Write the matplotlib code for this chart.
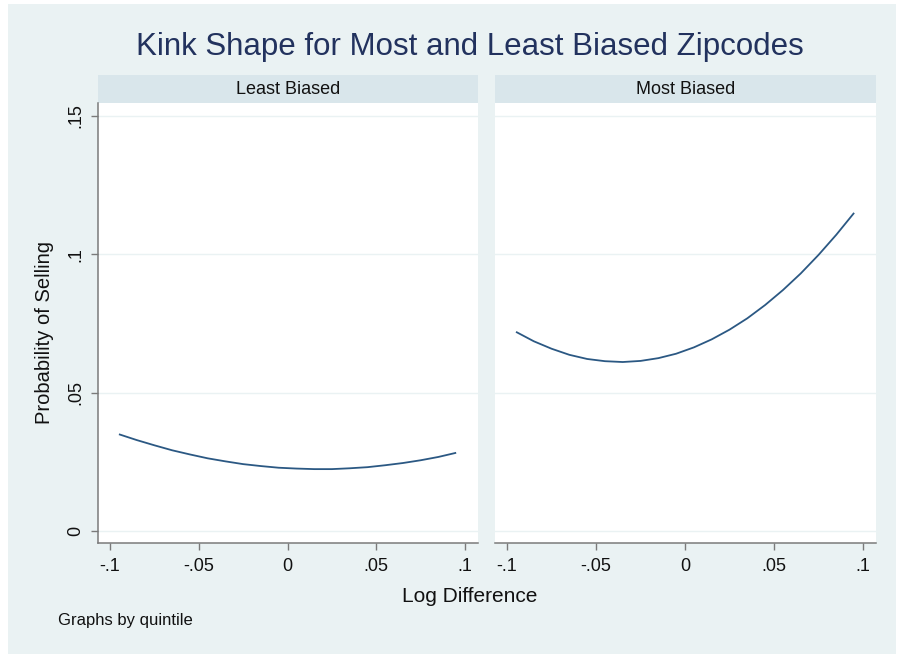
import matplotlib
matplotlib.use("Agg")
import matplotlib.pyplot as plt
from matplotlib.patches import Rectangle
import numpy as np

# ---- data ----
panels = ["Least Biased", "Most Biased"]
log_diff = [-0.095, -0.085, -0.075, -0.065, -0.055, -0.045, -0.035, -0.025, -0.015, -0.005,
            0.005, 0.015, 0.025, 0.035, 0.045, 0.055, 0.065, 0.075, 0.085, 0.095]
prob_least = [0.0350, 0.0329, 0.0310, 0.0292, 0.0277, 0.0263, 0.0252, 0.0242, 0.0235, 0.0229,
              0.0226, 0.0224, 0.0224, 0.0227, 0.0231, 0.0238, 0.0246, 0.0256, 0.0268, 0.0283]
prob_most = [0.0720, 0.0686, 0.0659, 0.0637, 0.0622, 0.0614, 0.0611, 0.0615, 0.0625, 0.0641,
             0.0664, 0.0693, 0.0728, 0.0769, 0.0817, 0.0871, 0.0931, 0.0998, 0.1071, 0.1150]
xticks = [-0.1, -0.05, 0, 0.05, 0.1]
xticklabels = ["-.1", "-.05", "0", ".05", ".1"]
yticks = [0, 0.05, 0.1, 0.15]
yticklabels = ["0", ".05", ".1", ".15"]

W, H = 897, 654
BG = "#EAF2F3"
STRIP = "#D9E6EB"
LINE = "#2B5883"
AXC = "#7A7A7A"
FONT = ["Liberation Sans", "DejaVu Sans"]

fig = plt.figure(figsize=(W / 100, H / 100), dpi=100)
fig.patch.set_facecolor("white")

def fx(px):
    return px / W

def fy(py):
    return 1 - py / H

# background panel
fig.patches.append(Rectangle((fx(8), 0), fx(896) - fx(8), fy(4), transform=fig.transFigure,
                             facecolor=BG, edgecolor="none", zorder=-10))

ax_x = [(98, 478), (495, 876)]
top, bot = 103, 543
series = [prob_least, prob_most]

for i, (x0, x1) in enumerate(ax_x):
    ax = fig.add_axes([fx(x0), fy(bot), fx(x1) - fx(x0), fy(top) - fy(bot)])
    ax.set_zorder(5)
    ax.set_facecolor("white")
    ax.plot(log_diff, series[i], color=LINE, lw=1.3, solid_capstyle="butt",
            solid_joinstyle="round", zorder=3)
    ax.set_xlim(-0.1068, 0.1073)
    ax.set_ylim(-0.0043, 0.1547)
    ax.set_yticks(yticks)
    ax.yaxis.grid(True, color=BG, lw=1.0)
    ax.set_axisbelow(True)
    ax.set_xticks(xticks)
    ax.set_xticklabels(xticklabels, fontsize=13, family=FONT, color="#111111")
    ax.tick_params(axis="x", direction="out", length=5, width=1, color=AXC, pad=6)
    for s in ["top", "right"]:
        ax.spines[s].set_visible(False)
    ax.spines["bottom"].set_color(AXC)
    ax.spines["bottom"].set_linewidth(1.1)
    if i == 0:
        ax.set_yticklabels(yticklabels, fontsize=13, family=FONT, rotation=90, va="center",
                           color="#111111")
        ax.tick_params(axis="y", direction="out", length=5, width=1, color=AXC, pad=5)
        ax.spines["left"].set_color(AXC)
        ax.spines["left"].set_linewidth(1.1)
    else:
        ax.spines["left"].set_visible(False)
        ax.tick_params(axis="y", left=False, labelleft=False)
    # strip
    fig.patches.append(Rectangle((fx(x0), fy(top)), fx(x1) - fx(x0), fy(75) - fy(top),
                                 transform=fig.transFigure, facecolor=STRIP, edgecolor="none", zorder=1))
    fig.text(fx((x0 + x1) / 2), fy(89), panels[i], ha="center", va="center",
             fontsize=13, family=FONT, color="#111111", zorder=6)

fig.text(fx(470), fy(47), "Kink Shape for Most and Least Biased Zipcodes", ha="center", va="center",
         fontsize=22.5, family=FONT, color="#22325E")
fig.text(fx(45), fy(332), "Probability of Selling", rotation=90, ha="center", va="center",
         fontsize=14.5, family=FONT, color="#111111")
fig.text(fx(470), fy(597), "Log Difference", ha="center", va="center",
         fontsize=15, family=FONT, color="#111111")
fig.text(fx(58), fy(620), "Graphs by quintile", ha="left", va="center",
         fontsize=12, family=FONT, color="#111111")

fig.savefig("out.png", dpi=100, facecolor=fig.get_facecolor())
